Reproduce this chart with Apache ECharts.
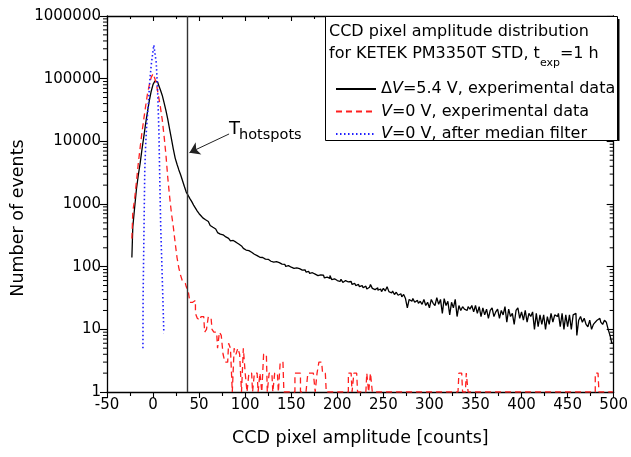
<!DOCTYPE html>
<html><head><meta charset="utf-8">
<script src="https://cdn.jsdelivr.net/npm/echarts@6/dist/echarts.min.js"></script>
<style>html,body{margin:0;padding:0;background:#fff}#c{width:631px;height:457px}</style>
</head><body><div id="c"></div>
<script>
// ---------------- data ----------------
const binStart = -23;   // centre of first histogram bin [counts]
const binWidth = 2;

// ΔV = 5.4 V, experimental data (black)
const blackCounts = [
  140, 430, 880, 1750, 2900, 4500, 7500, 12000, 19500, 30000,        // -23
  45000, 63000, 81000, 92000, 89000, 79000, 66000, 54000, 41000, 31000, // -3
  22500, 15500, 10800, 7500, 5400, 4300, 3500, 2900, 2350, 1900,     // 17
  1550, 1380, 1220, 1090, 960, 860, 770, 700, 650, 600,              // 37
  560, 525, 490, 455, 425, 400, 375, 350, 330, 322,                  // 57
  300, 298, 283, 275, 258, 262, 246, 236, 230, 214,                  // 77
  204, 196, 184, 180, 168, 170, 158, 155, 150, 141,                  // 97
  138, 140, 132, 129, 131, 122, 125, 118, 120, 113,                  // 117
  116, 110, 106, 109, 101, 104, 98, 100, 94, 96,                     // 137
  90, 93, 88, 85, 89, 82, 84, 78, 80, 76,                            // 157
  79, 72, 74, 70, 73, 66, 68, 65, 72, 62,                            // 177
  64, 60, 62, 58, 63, 56, 60, 57, 54, 58,                            // 197
  52, 54, 50, 52, 48, 50, 46, 49, 44, 47,                            // 217
  52, 45, 43, 46, 42, 44, 40, 45, 41, 48,                            // 237
  40, 38, 41, 36, 39, 35, 37, 33, 36, 31,                            // 257
  22, 30, 28, 31, 27, 29, 26, 28, 25, 30,                            // 277
  24, 27, 22, 30, 26, 24, 32, 25, 30, 18,                            // 297
  31, 24, 28, 17, 27, 22, 30, 16, 24, 20,                            // 317
  23, 21, 20, 23, 21, 24, 19, 24, 18, 23,                            // 337
  16, 22, 17, 21, 15, 20, 22, 16, 19, 21,                            // 357
  15, 20, 17, 23, 13, 21, 16, 18, 12, 20,                            // 377
  22, 15, 19, 14, 20, 13, 18, 16, 19, 10,                            // 397
  18, 11, 17, 12, 17, 10, 16, 12, 18, 13,                            // 417
  17, 16, 18, 11, 18, 10, 17, 11, 17, 10,                            // 437
  17, 18, 8, 14, 16, 13, 15, 12, 11, 14,                             // 457
  10, 12, 13, 14, 15, 13, 12, 14, 13, 10,                            // 477
  8, 6                                                               // 497
];

// V = 0 V, experimental data (red); empty bins drawn on the axis (1)
const redCounts = [
  280, 750, 1200, 2300, 4500, 8000, 14000, 23000, 37000, 58000,      // -23
  80000, 105000, 120000, 100000, 76000, 52000, 35000, 22000, 12000, 6000, // -3
  2600, 1300, 700, 430, 240, 140, 95, 72, 58, 54,                    // 17
  48, 42, 27, 27, 29, 18, 15, 14, 16, 16,                            // 37
  9, 10, 16, 15, 10, 9, 9, 5, 9, 8,                                  // 57
  4, 3, 3, 6, 5, 1, 5, 4, 5, 4,                                      // 77
  1, 5, 2, 1, 2, 2, 1, 2, 2, 1,                                      // 97
  2, 1, 4, 4, 1, 2, 2, 1, 2, 2,                                      // 117
  1, 3, 3, 1, 1, 1, 1, 1, 1, 2,                                      // 137
  2, 2, 1, 1, 1, 1, 2, 2, 2, 2,                                      // 157
  1, 2, 3, 3, 2, 2, 1, 1, 1, 1,                                      // 177
  1, 1, 1, 1, 1, 1, 1, 1, 2, 2,                                      // 197
  1, 2, 2, 1, 1, 1, 1, 1, 2, 1,                                      // 217
  2, 1, 1, 1, 1, 1, 1, 1, 1, 1,                                      // 237
  1, 1, 1, 1, 1, 1, 1, 1, 1, 1,                                      // 257
  1, 1, 1, 1, 1, 1, 1, 1, 1, 1,                                      // 277
  1, 1, 1, 1, 1, 1, 1, 1, 1, 1,                                      // 297
  1, 1, 1, 1, 1, 1, 1, 1, 2, 2,                                      // 317
  1, 1, 2, 1, 1, 1, 1, 1, 1, 1,                                      // 337
  1, 1, 1, 1, 1, 1, 1, 1, 1, 1,                                      // 357
  1, 1, 1, 1, 1, 1, 1, 1, 1, 1,                                      // 377
  1, 1, 1, 1, 1, 1, 1, 1, 1, 1,                                      // 397
  1, 1, 1, 1, 1, 1, 1, 1, 1, 1,                                      // 417
  1, 1, 1, 1, 1, 1, 1, 1, 1, 1,                                      // 437
  1, 1, 1, 1, 1, 1, 1, 1, 1, 1,                                      // 457
  1, 1, 2, 2, 1, 1, 1, 1, 1, 1,                                      // 477
  1, 1                                                               // 497
];

// V = 0 V, after median filter (blue)
const blueX = [-11, -10.8, -9.8, -9, -8, -7, -5.3, -3.5, -1.8, 0.8, 3.5, 5.2, 6.3, 7.1, 8.3, 10.6, 11.7];
const blueY = [5, 33, 435, 3500, 9000, 17000, 36000, 95000, 175000, 345000, 178000, 51000, 15000, 3500, 435, 33, 8.7];

const yTickLabels = ['1', '10', '100', '1000', '10000', '100000', '1000000'];
const thresholdX = 37.5;                 // T_hotspots
const arrowFrom = [82.5, 13100];
const arrowTo = [39.5, 6600];

const seriesNames = ['dv54', 'v0', 'v0med'];
const legendText = {
  dv54: '{n|\u0394}{i|V}{n|=5.4 V, experimental data}',
  v0: '{i|V}{n|=0 V, experimental data}',
  v0med: '{i|V}{n|=0 V, after median filter}'
};

// ---------------- chart ----------------
const F = '"DejaVu Sans", sans-serif';
const toXY = arr => arr.map((v, i) => [binStart + i * binWidth, v]);
const minorY = [];
for (let k = 0; k < 6; k++) for (let m = 2; m <= 9; m++) minorY.push([-50, m * Math.pow(10, k)]);

const axisLineStyle = { color: '#000', width: 1.3 };
const tickStyle = { color: '#000', width: 1.1 };

const chart = echarts.init(document.getElementById('c'), null, { renderer: 'canvas' });
chart.setOption({
  animation: false,
  backgroundColor: '#fff',
  grid: { left: 107, right: 13, top: 16, bottom: 65, containLabel: false },
  xAxis: [
    { type: 'value', min: -50, max: 500, interval: 50, position: 'bottom',
      axisLine: { show: true, onZero: false, lineStyle: axisLineStyle },
      axisTick: { show: true, inside: false, length: 6, lineStyle: tickStyle },
      minorTick: { show: true, splitNumber: 2, length: 4, lineStyle: tickStyle },
      splitLine: { show: false },
      axisLabel: { color: '#000', fontFamily: F, fontSize: 15, margin: 6 },
      name: 'CCD pixel amplitude [counts]', nameLocation: 'middle', nameGap: 37,
      nameTextStyle: { color: '#000', fontFamily: F, fontSize: 17.5 } },
    { type: 'value', min: -50, max: 500, interval: 50, position: 'top',
      axisLine: { show: true, onZero: false, lineStyle: axisLineStyle },
      axisTick: { show: true, inside: true, length: 5, lineStyle: tickStyle },
      minorTick: { show: true, splitNumber: 2, length: 3, lineStyle: tickStyle },
      splitLine: { show: false }, axisLabel: { show: false } }
  ],
  yAxis: [
    { type: 'log', logBase: 10, min: 1, max: 1000000, splitNumber: 6, position: 'left',
      axisLine: { show: true, onZero: false, lineStyle: axisLineStyle },
      axisTick: { show: true, inside: false, length: 7, lineStyle: tickStyle },
      splitLine: { show: false },
      axisLabel: { color: '#000', fontFamily: F, fontSize: 15, margin: 6,
        formatter: v => yTickLabels[Math.round(Math.log10(v))] } },
    { type: 'log', logBase: 10, min: 1, max: 1000000, splitNumber: 6, position: 'right',
      axisLine: { show: true, onZero: false, lineStyle: axisLineStyle },
      axisTick: { show: true, inside: true, length: 7, lineStyle: tickStyle },
      splitLine: { show: false }, axisLabel: { show: false } }
  ],
  legend: {
    show: true, orient: 'vertical', left: 330, top: 75, itemWidth: 40, itemHeight: 14, itemGap: 4.5,
    data: seriesNames, selectedMode: false, z: 30,
    itemStyle: { color: 'rgba(0,0,0,0)', borderColor: 'rgba(0,0,0,0)', borderWidth: 0, opacity: 0 },
    formatter: name => legendText[name],
    textStyle: { color: '#000', fontFamily: F, fontSize: 16, lineHeight: 18,
      rich: { n: { color: '#000', fontFamily: F, fontSize: 16 },
              i: { color: '#000', fontFamily: F, fontSize: 16, fontStyle: 'italic' } } }
  },
  series: [
    { name: 'dv54', type: 'line', step: 'middle', symbol: 'none', data: toXY(blackCounts),
      lineStyle: { color: '#000', width: 1.3 }, itemStyle: { color: '#000' }, z: 3,
      markLine: { silent: true, symbol: ['none', 'none'], label: { show: false },
        lineStyle: { color: '#333', width: 1.4, type: 'solid' },
        data: [{ xAxis: thresholdX }] } },
    { name: 'v0', type: 'line', step: 'middle', symbol: 'none', data: toXY(redCounts),
      lineStyle: { color: '#ff1f1f', width: 1.3, type: [6, 4] }, itemStyle: { color: '#ff1f1f' }, z: 4 },
    { name: 'v0med', type: 'line', symbol: 'none', data: blueX.map((x, i) => [x, blueY[i]]),
      lineStyle: { color: '#1f1fff', width: 1.6, type: [1.5, 2.5] }, itemStyle: { color: '#1f1fff' }, z: 5,
      markLine: { silent: true, symbol: ['none', 'arrow'], symbolSize: 10, label: { show: false },
        lineStyle: { color: '#222', width: 1, type: 'solid' },
        data: [[{ coord: arrowFrom }, { coord: arrowTo }]] } },
    { name: 'minorY', type: 'custom', silent: true, clip: false, data: minorY, z: 2,
      renderItem: (params, api) => {
        const y = api.coord([-50, api.value(1)])[1];
        const xl = api.coord([-50, 1])[0];
        const xr = api.coord([500, 1])[0];
        return { type: 'group', children: [
          { type: 'line', shape: { x1: xl - 4, y1: y, x2: xl, y2: y }, style: { stroke: '#000', lineWidth: 1 } },
          { type: 'line', shape: { x1: xr - 4, y1: y, x2: xr, y2: y }, style: { stroke: '#000', lineWidth: 1 } }
        ] };
      } }
  ]
});

// ---------------- annotations ----------------
const mctx = document.createElement('canvas').getContext('2d');
function tw(t, size, style) { mctx.font = (style || '') + ' ' + size + 'px "DejaVu Sans"'; return mctx.measureText(t).width; }
const a0 = chart.convertToPixel({ xAxisIndex: 0, yAxisIndex: 0 }, arrowFrom);
const line2a = 'for KETEK PM3350T STD, t';
const w2a = tw(line2a, 16), wexp = tw('exp', 11);
const txt = (x, y, s, size, extra) => Object.assign({ type: 'text', x: x, y: y, z: 20,
  style: { text: s, fontFamily: '"DejaVu Sans"', fontSize: size, fill: '#000', align: 'left', verticalAlign: 'middle' } }, extra || {});
chart.setOption({
  graphic: [
    { type: 'rect', z: 10, shape: { x: 325.5, y: 16.5, width: 292, height: 124 },
      style: { fill: '#fff', stroke: '#000', lineWidth: 1 } },
    { type: 'line', z: 11, shape: { x1: 618.5, y1: 19, x2: 618.5, y2: 141 }, style: { stroke: '#000', lineWidth: 2 } },
    txt(329, 32, 'CCD pixel amplitude distribution', 16),
    txt(329, 54, line2a, 16),
    txt(329 + w2a, 63, 'exp', 11),
    txt(329 + w2a + wexp, 54, '=1 h', 16),
    txt(a0[0], a0[1] - 5, 'T', 18),
    txt(a0[0] + tw('T', 18) - 1, a0[1] + 1, 'hotspots', 14.5),
    { type: 'text', x: 18.5, y: 218, rotation: Math.PI / 2, z: 20,
      style: { text: 'Number of events', fontFamily: '"DejaVu Sans"', fontSize: 17.5, fill: '#000', align: 'center', verticalAlign: 'middle' } }
  ]
});
</script></body></html>
